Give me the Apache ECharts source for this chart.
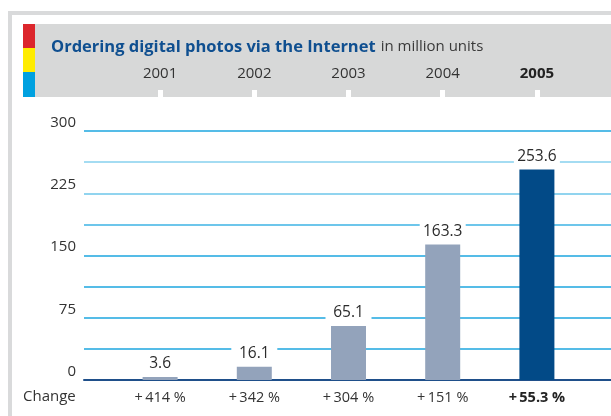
<!DOCTYPE html>
<html>
<head>
<meta charset="utf-8">
<style>
  html, body { margin: 0; padding: 0; background: #ffffff; }
  #chart { width: 611px; height: 416px; }
</style>
<script src="https://cdn.jsdelivr.net/npm/echarts@6/dist/echarts.min.js"></script>
</head>
<body>
<div id="chart"></div>
<script>
// Orders of digital photos via the Internet, million units
const years = ['2001', '2002', '2003', '2004', '2005'];
const orders = [3.6, 16.1, 65.1, 163.3, 253.6];
const changes = ['+\u2009414\u00a0%', '+\u2009342\u00a0%', '+\u2009304\u00a0%', '+\u2009151\u00a0%', '+\u200955.3\u00a0%'];
const yTicks = [0, 75, 150, 225, 300];

const FONT = '"Open Sans", "Noto Sans", sans-serif';
const lastIdx = years.length - 1;

// the latest year is set in bold on both category rows
const emphasiseLast = arr => arr.map((v, i) =>
  i === lastIdx ? { value: v, textStyle: { fontWeight: 'bold', color: '#222222' } } : v);

const chart = echarts.init(document.getElementById('chart'), null, { renderer: 'canvas' });

const gridLineColors = ['#1ca6df', '#1ca6df', '#1ca6df', '#1ca6df', '#1ca6df', '#3db3e4', '#6cc6ea', '#86d0ee'];

const option = {
  animation: false,
  backgroundColor: '#ffffff',
  title: {
    text: '{b|Ordering digital photos via the Internet} {n|in million units}',
    left: 46,
    top: 33,
    textStyle: {
      rich: {
        b: { fontFamily: FONT, fontSize: 16.5, fontWeight: 'bold', color: '#0f4f90' },
        n: { fontFamily: FONT, fontSize: 15, fontWeight: 'normal', color: '#3a3a3a' }
      }
    }
  },
  graphic: [
    // outer frame
    { type: 'rect', z: -10, shape: { x: 8, y: 11, width: 603, height: 4 }, style: { fill: '#d9dadb' } },
    { type: 'rect', z: -10, shape: { x: 8, y: 11, width: 4, height: 405 }, style: { fill: '#d9dadb' } },
    // header band
    { type: 'rect', z: -10, shape: { x: 23, y: 24, width: 588, height: 73 }, style: { fill: '#d7d8d8' } },
    { type: 'rect', z: -9, shape: { x: 23, y: 24, width: 12, height: 24 }, style: { fill: '#dc262c' } },
    { type: 'rect', z: -9, shape: { x: 23, y: 48, width: 12, height: 24 }, style: { fill: '#ffec00' } },
    { type: 'rect', z: -9, shape: { x: 23, y: 72, width: 12, height: 25 }, style: { fill: '#00a1e0' } },
    // row caption for the change figures
    {
      type: 'text', left: 23, top: 389,
      style: { text: 'Change', fontFamily: FONT, fontSize: 15, fill: '#333333' }
    }
  ],
  grid: [
    { left: 84, right: 0, top: 131, bottom: 36 },
    { left: 113, right: 27, top: 131, bottom: 36 }
  ],
  xAxis: [
    {
      gridIndex: 0, type: 'category', data: years,
      axisLine: { show: true, lineStyle: { color: '#1f4f8a', width: 2 } },
      axisTick: { show: false }, axisLabel: { show: false }, splitLine: { show: false }
    },
    {
      gridIndex: 1, type: 'category', data: emphasiseLast(years), position: 'top', offset: 34,
      z: 5,
      axisLine: { show: false, onZero: false },
      axisTick: { show: true, alignWithLabel: true, length: 7, lineStyle: { color: '#ffffff', width: 5, cap: 'butt' } },
      axisLabel: { margin: 16, fontFamily: FONT, fontSize: 15, color: '#333333' }
    },
    {
      gridIndex: 1, type: 'category', data: emphasiseLast(changes), position: 'bottom',
      axisLine: { show: false, onZero: false }, axisTick: { show: false },
      axisLabel: { margin: 10, fontFamily: FONT, fontSize: 14.5, color: '#333333' }
    }
  ],
  yAxis: [
    {
      gridIndex: 0, type: 'value', min: 0, max: 300, interval: 37.5,
      axisLine: { show: false }, axisTick: { show: false },
      axisLabel: {
        margin: 8, fontFamily: FONT, fontSize: 15, color: '#333333',
        verticalAlign: 'bottom', padding: [0, 0, 1, 0],
        formatter: v => yTicks.includes(v) ? String(v) : ''
      },
      splitLine: { show: true, lineStyle: { color: gridLineColors, width: 1.5 } }
    },
    {
      gridIndex: 1, type: 'value', min: 0, max: 300, interval: 37.5, show: false
    }
  ],
  series: [
    {
      type: 'bar',
      xAxisIndex: 1, yAxisIndex: 1,
      barWidth: 35,
      z: 3,
      data: orders.map((v, i) => ({
        value: v,
        itemStyle: { color: i === lastIdx ? '#024a87' : '#93a3bb' }
      })),
      label: {
        show: true, position: 'top', distance: 5,
        fontFamily: FONT, fontSize: 15.5, color: '#2b2b2b',
        backgroundColor: '#ffffff', width: 40, align: 'center', padding: [0, 3, 0, 3],
        formatter: p => p.value.toFixed(1)
      }
    }
  ]
};

chart.setOption(option);
</script>
</body>
</html>
